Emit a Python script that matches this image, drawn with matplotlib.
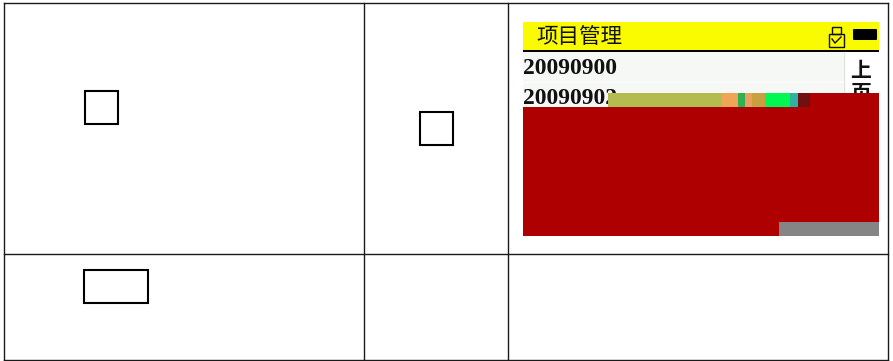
import matplotlib

matplotlib.use("Agg")
import matplotlib.pyplot as plt
from matplotlib.patches import FancyBboxPatch, Rectangle

# table rules, in pixels of the page
col_lines = [4, 364, 508, 888]
row_lines = [3, 254, 360]

# empty boxes in the table: x, y, w, h
boxes = [(85, 91, 33, 33), (420, 112, 33, 33), (84, 270, 64, 33)]

title = "项目管理"
rows = ["20090900", "20090902"]
side_chars = ["上", "页"]

# damaged band over the second row: x start, width, colour
band_x = [608, 722, 738, 745, 752, 765, 790, 798]
band_w = [114, 16, 7, 7, 13, 25, 8, 12]
band_colors = ["#B4BC50", "#EFA555", "#30B050", "#E8A060", "#C8A040", "#00F850", "#30B0A0", "#701010"]

cjk = ["Noto Sans CJK SC", "DejaVu Sans"]

fig = plt.figure(figsize=(8.93, 3.61), dpi=100)
ax = fig.add_axes([0, 0, 1, 1])
ax.set_xlim(0, 893)
ax.set_ylim(361, 0)
ax.axis("off")

for x in col_lines:
    ax.plot([x, x], [row_lines[0], row_lines[-1]], color="#1A1A1A", lw=1.0)
for y in row_lines:
    ax.plot([col_lines[0], col_lines[-1]], [y, y], color="#1A1A1A", lw=1.0)

for x, y, w, h in boxes:
    ax.add_patch(Rectangle((x, y), w, h, fill=False, edgecolor="black", lw=1.5))

# screenshot in the top right cell
ax.add_patch(Rectangle((523, 22), 356, 28, color="#FAFA00", lw=0))
ax.add_patch(Rectangle((523, 50), 356, 2, color="black", lw=0))
ax.add_patch(Rectangle((523, 52), 320, 30, color="#F5F8F5", lw=0))
ax.add_patch(Rectangle((523, 83), 320, 24, color="#F5F8F5", lw=0))
ax.plot([843.5, 843.5], [52, 107], color="#DDE2DD", lw=1)

ax.text(536, 37, title, family=cjk, fontsize=15.5, va="center", ha="left", color="#111111")
ax.text(523, 69, rows[0], family="Liberation Serif", fontsize=17, weight="bold",
        va="center", ha="left", color="#111111")
ax.text(523, 99, rows[1], family="Liberation Serif", fontsize=17, weight="bold",
        va="center", ha="left", color="#111111")
ax.text(861, 70, side_chars[0], family=cjk, fontsize=15, weight="bold",
        va="center", ha="center", color="#111111")
ax.text(861, 93, side_chars[1], family=cjk, fontsize=15, weight="bold",
        va="center", ha="center", color="#111111")

# USB and battery icons
ax.add_patch(Rectangle((828.5, 33.5), 15, 13.5, fill=False, edgecolor="#111111", lw=1.0))
ax.add_patch(Rectangle((832, 26.5), 9, 7, fill=False, edgecolor="#111111", lw=1.0))
ax.plot([832, 835, 841], [39, 43, 37], color="#111111", lw=1.0)
ax.add_patch(FancyBboxPatch((854, 30), 22, 9, boxstyle="round,pad=1", color="black", lw=0))

# red block and its damaged band go on top of the rows
ax.add_patch(Rectangle((523, 107), 356, 129, color="#AE0000", lw=0, zorder=3))
ax.add_patch(Rectangle((810, 93), 69, 14, color="#AE0000", lw=0, zorder=3))
ax.add_patch(Rectangle((779, 222), 100, 14, color="#858585", lw=0, zorder=4))
ax.barh(100, band_w, left=band_x, height=14, color=band_colors, lw=0, zorder=4)
ax.set_xlim(0, 893)
ax.set_ylim(361, 0)

fig.savefig("out.png", dpi=100)
plt.close(fig)
